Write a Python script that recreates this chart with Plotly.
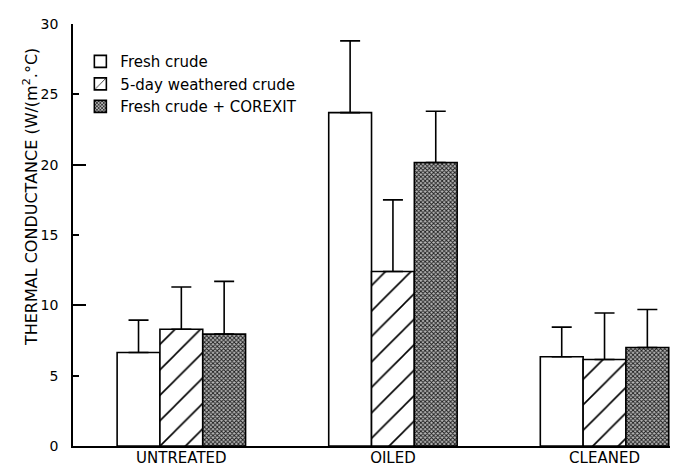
import plotly.graph_objects as go

categories = ["UNTREATED", "OILED", "CLEANED"]
series_names = ["Fresh crude", "5-day weathered crude", "Fresh crude + COREXIT"]
fresh = [6.65, 23.7, 6.35]
fresh_err = [2.3, 5.1, 2.1]
weathered = [8.3, 12.4, 6.15]
weathered_err = [3.0, 5.1, 3.3]
corexit = [7.95, 20.15, 7.0]
corexit_err = [3.75, 3.65, 2.7]
y_ticks = [0, 5, 10, 15, 20, 25, 30]
y_long_ticks = [0, 10, 20, 30]

FONT = "DejaVu Sans"

fig = go.Figure()

styles = [
    dict(color="white", pattern=None),
    dict(color="white", pattern=dict(shape="/", size=18, solidity=0.09, fgcolor="black", bgcolor="white")),
    dict(color="#8a8a8a", pattern=dict(shape="x", size=3, solidity=0.5, fgcolor="#1a1a1a", bgcolor="#b8b8b8")),
]
values = [fresh, weathered, corexit]
errs = [fresh_err, weathered_err, corexit_err]

for i, (name, vals, err, st) in enumerate(zip(series_names, values, errs, styles)):
    marker = dict(color=st["color"], line=dict(color="black", width=1.6))
    if st["pattern"]:
        marker["pattern"] = st["pattern"]
    fig.add_trace(go.Bar(
        x=categories, y=vals, name=name, marker=marker,
        legendgroup=f"g{i}",
        error_y=dict(type="data", array=err, arrayminus=[0] * len(err), symmetric=False,
                     color="black", thickness=1.6, width=10),
    ))

fig.update_layout(
    template="none",
    width=678, height=466,
    margin=dict(l=65, r=0, t=16, b=28, pad=0),
    paper_bgcolor="white", plot_bgcolor="white",
    font=dict(family=FONT, color="black", size=14),
    barmode="group", bargap=0.393, bargroupgap=0,
    showlegend=True,
    legend=dict(x=0.012, y=0.95, xanchor="left", yanchor="top",
                font=dict(family=FONT, size=15, color="black"),
                bgcolor="rgba(0,0,0,0)", tracegroupgap=6, traceorder="normal",
                borderwidth=0),
    xaxis=dict(range=[-0.512, 2.385], showline=True, linecolor="black", linewidth=1.6,
               ticks="", showgrid=False, zeroline=False, automargin=False,
               ticklabelstandoff=-3,
               tickfont=dict(family=FONT, size=15, color="black")),
    yaxis=dict(range=[0, 30], tickvals=y_ticks, ticks="inside", ticklen=6, tickwidth=1.6,
               tickcolor="black", showline=True, linecolor="black", linewidth=1.6,
               showgrid=False, zeroline=False, ticklabelstandoff=10, automargin=False,
               tickfont=dict(family=FONT, size=14, color="black")),
    yaxis2=dict(range=[0, 30], overlaying="y", side="left", tickvals=y_long_ticks,
                ticks="inside", ticklen=13, tickwidth=1.6, tickcolor="black",
                showticklabels=False, showgrid=False, zeroline=False, showline=False,
                automargin=False),
    annotations=[dict(
        text="THERMAL CONDUCTANCE (W/(m<sup>2</sup>.°C)",
        xref="paper", yref="paper", x=-0.070, y=0.59, textangle=-90,
        showarrow=False, xanchor="center", yanchor="middle",
        font=dict(family=FONT, size=16, color="black"),
    )],
)

# overlay axis for long ticks at multiples of 10
fig.add_trace(go.Scatter(x=categories, y=[0, 0, 0], yaxis="y2", mode="lines",
                         line=dict(width=0), showlegend=False, hoverinfo="skip"))

fig.write_html("out.html")
